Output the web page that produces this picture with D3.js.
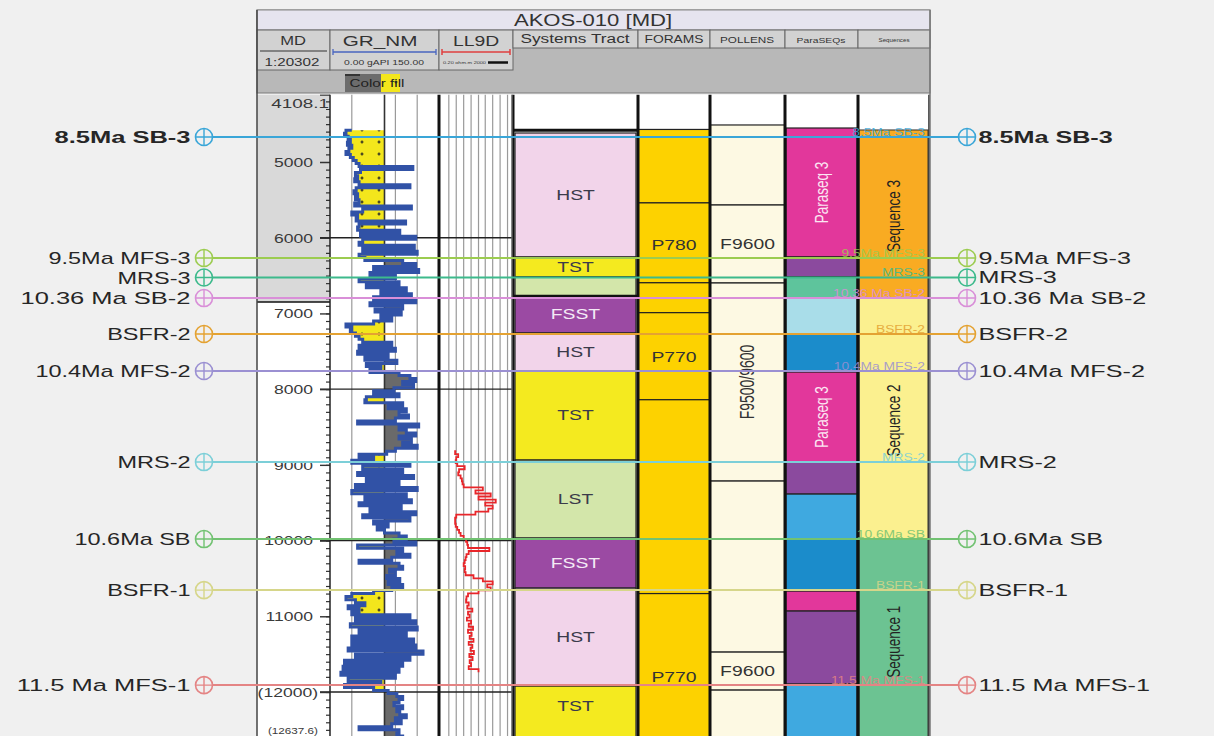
<!DOCTYPE html>
<html><head><meta charset="utf-8">
<script src="https://cdn.jsdelivr.net/npm/d3@7"></script>
<style>
html,body{margin:0;padding:0;background:#f0f0f0;}
svg{display:block;font-family:"Liberation Sans",Arial,sans-serif;}
</style></head><body>
<svg id="chart" width="1214" height="736"></svg>
<script>
// ---------------- well & depth reference ----------------
const wellName = "AKOS-010 [MD]";
const depthTop = 4108.1, depthBase = 12637.6;
const depthLabelValues = [4108.1, 5000, 6000, 7000, 8000, 9000, 10000, 11000, 12000, 12637.6];
const depthGridMajor = [6000, 8000, 10000, 12000];
const mdShadeBase = 6850;

// ---------------- well tops ----------------
const horizonNames  = ["8.5Ma SB-3", "9.5Ma MFS-3", "MRS-3", "10.36 Ma SB-2", "BSFR-2", "10.4Ma MFS-2", "MRS-2", "10.6Ma SB", "BSFR-1", "11.5 Ma MFS-1"];
const horizonDepths = [4670, 6268, 6526, 6797, 7272, 7761, 8963, 9980, 10654, 11909];
const horizonColors = ["#3aa6d8", "#9ccc50", "#3dba8c", "#d98fd8", "#e4a232", "#9b90d2", "#7ccfd8", "#72c272", "#d6d68a", "#e48484"];

// ---------------- GR_NM log (gAPI), sampled every 40 ft from 4580 ft ----------------
const grStart = 4580, grStep = 40, grCutoff = 75;
const grValues = [
  30,22,20,25,28,24,30,26,22,28,
  32,36,40,114,42,35,38,34,40,110,
  36,33,38,35,40,34,112,45,30,38,
  36,104,40,38,96,42,118,45,40,116,
  45,120,40,48,100,118,60,122,55,90,
  40,95,50,105,70,112,60,118,55,100,
  62,98,70,85,60,22,30,28,35,40,
  45,85,40,90,38,80,48,92,50,70,
  55,95,110,118,100,115,88,60,95,50,
  48,100,80,105,95,108,90,38,122,95,
  105,118,95,112,100,120,90,78,40,60,
  30,110,45,100,38,115,50,95,35,120,
  30,105,48,112,40,98,55,118,45,110,
  60,80,65,75,95,105,88,118,38,100,
  92,110,85,40,95,100,82,90,78,96,
  80,100,85,60,30,22,35,48,25,40,
  30,110,35,118,28,120,40,105,30,115,
  30,118,25,128,35,110,20,100,18,95,
  15,90,25,70,20,60,80,92,100,95,
  88,100,92,96,105,90,98,85,40,95,
  92,100
];

// ---------------- LL9D log (ohm.m), sampled every 40 ft from 8818 ft ----------------
const llStart = 8818, llStep = 40;
const llValues = [
  1.0,0.9,1.2,1.0,0.95,1.1,2.2,1.3,1.2,1.5,
  1.7,1.8,2.0,12,6,25,8,40,15,30,
  20,6,1.0,0.9,0.9,0.95,1.1,1.3,1.5,2.0,
  2.5,2.8,3.0,22,3.2,2.6,2.4,2.2,2.0,2.3,
  2.2,2.4,5,12,30,18,25,8,3.0,2.6,
  2.5,3.2,2.8,4.5,3.0,3.5,2.7,4.0,3.2,4.8,
  3.0,4.2,3.5,5.0,3.2,4.5,3.8,5.2,3.4,4.6,
  3.5,4.0,3.2,8
];
const llGridValues = [0.5, 1, 2, 4, 8, 15, 30, 60, 120];
const grGridValues = [30, 90, 120];

// ---------------- Systems tracts ----------------
const stTypes = ["HST", "TST", "LST", "FSST", "HST", "TST", "LST", "FSST", "HST", "TST"];
const stLabels = ["HST", "TST", "", "FSST", "HST", "TST", "LST", "FSST", "HST", "TST"];
const stTops  = [4617, 6255, 6519, 6770, 7259, 7761, 8937, 9967, 10628, 11922];
const stBases = [6255, 6519, 6770, 7259, 7761, 8937, 9967, 10628, 11922, 12637.6];
const stTopLine = 4580;

// ---------------- Foraminifera zones ----------------
const foramTops   = [4570, 5540, 6595, 6990, 8140, 10700];
const foramBases  = [5540, 6595, 6990, 8140, 10700, 12637.6];
const foramLabels = ["", "P780", "", "P770", "", "P770"];
const foramLabelDepths = [null, 6096, null, 7576, null, 11803];

// ---------------- Pollen zones ----------------
const pollenTops   = [4511, 5568, 6598, 9214, 11473, 11975];
const pollenBases  = [5568, 6598, 9214, 11473, 11975, 12637.6];
const pollenLabels = ["", "F9600", "F9500/9600", "", "F9600", ""];

// ---------------- Parasequences ----------------
const psqTops   = [4551, 6255, 6519, 6797, 7272, 7774, 8963, 9386, 9980, 10667, 10931, 11896];
const psqBases  = [6255, 6519, 6797, 7272, 7774, 8963, 9386, 9980, 10667, 10931, 11896, 12637.6];
const psqKinds  = ["magenta", "purple", "teal", "pale", "blue", "magenta", "purple", "sky", "blue", "magenta", "purple", "sky"];
const psqLabels = ["Paraseq 3", "", "", "", "", "Paraseq 3", "", "", "", "", "", ""];

// ---------------- Sequences ----------------
const seqTops   = [4577, 6797, 9980];
const seqBases  = [6797, 9980, 12637.6];
const seqLabels = ["Sequence 3", "Sequence 2", "Sequence 1"];

// ======================================================================
const svg = d3.select("#chart");
const W = 1214, H = 736;
const SX = 1.38; // horizontal stretch of the lettering

const T = {
  md: [257, 330], gr: [330, 439], ll: [439, 513], st: [513, 638],
  fo: [638, 710], po: [710, 785], ps: [785, 858], sq: [858, 930]
};
const panelL = 257, panelR = 930;

const y = d3.scaleLinear().domain([5000, 12000]).range([162, 692]);
const yTop = y(depthTop), yBot = y(depthBase);
const xGR = d3.scaleLinear().domain([0, 150]).range(T.gr);
const xLL = d3.scaleLog().domain([0.2, 200]).range(T.ll);

svg.append("rect").attr("width", W).attr("height", H).attr("fill", "#f0f0f0");

const defs = svg.append("defs");
const pat = defs.append("pattern").attr("id", "sand").attr("patternUnits", "userSpaceOnUse")
  .attr("width", 17).attr("height", 12).attr("x", 0).attr("y", 4);
pat.append("rect").attr("width", 17).attr("height", 12).attr("fill", "#f3e61c");
pat.append("path").attr("d", "M3.5,6 h3 M5,4.5 v3").attr("stroke", "#222").attr("stroke-width", 1.2);
defs.append("clipPath").attr("id", "trackClip").append("rect")
  .attr("x", panelL).attr("y", yTop).attr("width", panelR - panelL).attr("height", H - yTop);

// ---------------- header ----------------
const hdr = svg.append("g");
hdr.append("rect").attr("x", panelL).attr("y", 10).attr("width", panelR - panelL).attr("height", 83)
  .attr("fill", "#b8b8b8").attr("stroke", "#7a7a7a");
hdr.append("rect").attr("x", panelL).attr("y", 10).attr("width", panelR - panelL).attr("height", 20)
  .attr("fill", "#e6e4ef").attr("stroke", "#8a8a8a");
hdr.append("text").attr("x", 593).attr("y", 26).attr("text-anchor", "middle")
  .attr("font-size", 16).attr("fill", "#333").text(wellName);

function cell(x0, x1, y0, y1) {
  hdr.append("rect").attr("x", x0).attr("y", y0).attr("width", x1 - x0).attr("height", y1 - y0)
    .attr("fill", "#d2d2d2").attr("stroke", "#666").attr("stroke-width", 1);
}
cell(T.md[0], T.md[1], 30, 70);
cell(T.gr[0], T.gr[1], 30, 70);
cell(T.ll[0], T.ll[1], 30, 70);
cell(T.st[0], T.st[1], 30, 48);
cell(T.fo[0], T.fo[1], 30, 48);
cell(T.po[0], T.po[1], 30, 48);
cell(T.ps[0], T.ps[1], 30, 48);
cell(T.sq[0], T.sq[1], 30, 48);

hdr.append("text").attr("x", 293).attr("y", 45).attr("text-anchor", "middle").attr("font-size", 12).attr("fill", "#333").text("MD");
hdr.append("line").attr("x1", 260).attr("x2", 327).attr("y1", 51).attr("y2", 51).attr("stroke", "#333");
hdr.append("text").attr("x", 292).attr("y", 66).attr("text-anchor", "middle").attr("font-size", 11).attr("fill", "#333").text("1:20302");

hdr.append("text").attr("x", 380).attr("y", 46).attr("text-anchor", "middle").attr("font-size", 15).attr("fill", "#333").text("GR_NM");
hdr.append("path").attr("d", `M${T.gr[0] + 3},52 H${T.gr[1] - 3} M${T.gr[0] + 3},49 V55 M${T.gr[1] - 3},49 V55`)
  .attr("stroke", "#4a66c0").attr("stroke-width", 1.3).attr("fill", "none");
hdr.append("text").attr("x", 384).attr("y", 65).attr("text-anchor", "middle").attr("font-size", 7.5).attr("fill", "#333").text("0.00 gAPI 150.00");

hdr.append("text").attr("x", 476).attr("y", 46).attr("text-anchor", "middle").attr("font-size", 14).attr("fill", "#333").text("LL9D");
hdr.append("path").attr("d", `M${T.ll[0] + 3},52 H${T.ll[1] - 3} M${T.ll[0] + 3},49 V55 M${T.ll[1] - 3},49 V55`)
  .attr("stroke", "#e04040").attr("stroke-width", 1.5).attr("fill", "none");
hdr.append("text").attr("x", 443).attr("y", 64).attr("font-size", 4).attr("fill", "#333").text("0.20 ohm.m 2000");
hdr.append("line").attr("x1", 488).attr("x2", 508).attr("y1", 62.5).attr("y2", 62.5).attr("stroke", "#111").attr("stroke-width", 2.5);

hdr.append("text").attr("x", 575).attr("y", 43).attr("text-anchor", "middle").attr("font-size", 12.5).attr("fill", "#333").text("Systems Tract");
hdr.append("text").attr("x", 674).attr("y", 43).attr("text-anchor", "middle").attr("font-size", 10).attr("fill", "#333").text("FORAMS");
hdr.append("text").attr("x", 747).attr("y", 43).attr("text-anchor", "middle").attr("font-size", 8.5).attr("fill", "#333").text("POLLENS");
hdr.append("text").attr("x", 821).attr("y", 43).attr("text-anchor", "middle").attr("font-size", 7.5).attr("fill", "#333").text("ParaSEQs");
hdr.append("text").attr("x", 894).attr("y", 42).attr("text-anchor", "middle").attr("font-size", 4.5).attr("fill", "#333").text("Sequences");

// color-fill legend
hdr.append("rect").attr("x", 345).attr("y", 74).attr("width", 36).attr("height", 18).attr("fill", "#6c6c6c");
hdr.append("rect").attr("x", 381).attr("y", 74).attr("width", 19).attr("height", 18).attr("fill", "url(#sand)");
hdr.append("line").attr("x1", 345).attr("x2", 360).attr("y1", 75).attr("y2", 75).attr("stroke", "#111").attr("stroke-width", 1.2);
hdr.append("text").attr("x", 377).attr("y", 87).attr("text-anchor", "middle").attr("font-size", 11).attr("fill", "#222").text("Color fill");

// ---------------- track area ----------------
const trk = svg.append("g").attr("clip-path", "url(#trackClip)");
trk.append("rect").attr("x", panelL).attr("y", yTop).attr("width", panelR - panelL).attr("height", H - yTop).attr("fill", "#fff");
trk.append("rect").attr("x", T.md[0]).attr("y", yTop).attr("width", T.md[1] - T.md[0]).attr("height", y(mdShadeBase) - yTop).attr("fill", "#d9d9d9");
trk.append("line").attr("x1", T.md[0]).attr("x2", T.md[1]).attr("y1", y(mdShadeBase)).attr("y2", y(mdShadeBase)).attr("stroke", "#111").attr("stroke-width", 1.5);

trk.selectAll(".grg").data(grGridValues).join("line")
  .attr("x1", d => xGR(d)).attr("x2", d => xGR(d)).attr("y1", yTop).attr("y2", H)
  .attr("stroke", "#9a9a9a").attr("stroke-width", 1.2);
trk.selectAll(".llg").data(llGridValues).join("line")
  .attr("x1", d => xLL(d)).attr("x2", d => xLL(d)).attr("y1", yTop).attr("y2", H)
  .attr("stroke", "#9a9a9a").attr("stroke-width", 1.2);

const grData = grValues.map((v, i) => ({ d: grStart + i * grStep, v }));
const areaSand = d3.area().curve(d3.curveStepAfter)
  .y(p => y(p.d)).x0(xGR(grCutoff)).x1(p => xGR(Math.min(p.v, grCutoff)));
const areaShale = d3.area().curve(d3.curveStepAfter)
  .y(p => y(p.d)).x0(xGR(grCutoff)).x1(p => xGR(Math.max(p.v, grCutoff)));
trk.append("path").datum(grData).attr("d", areaSand).attr("fill", "url(#sand)");
trk.append("path").datum(grData).attr("d", areaShale).attr("fill", "#6a6a6a");
trk.append("line").attr("x1", xGR(grCutoff)).attr("x2", xGR(grCutoff)).attr("y1", yTop).attr("y2", H)
  .attr("stroke", "#333").attr("stroke-width", 1.6);

trk.selectAll(".dg").data(depthGridMajor).join("line")
  .attr("x1", 320).attr("x2", T.ll[1]).attr("y1", d => y(d)).attr("y2", d => y(d))
  .attr("stroke", "#222").attr("stroke-width", 1.4);

const grLine = d3.line().curve(d3.curveStepAfter).x(p => xGR(p.v)).y(p => y(p.d));
trk.append("path").datum(grData).attr("d", grLine).attr("fill", "none")
  .attr("stroke", "#3152a6").attr("stroke-width", 3);

const llData = llValues.map((v, i) => ({ d: llStart + i * llStep, v }));
const llLine = d3.line().curve(d3.curveStepAfter).x(p => xLL(p.v)).y(p => y(p.d));
trk.append("path").datum(llData).attr("d", llLine).attr("fill", "none")
  .attr("stroke", "#e8262a").attr("stroke-width", 1.8);

// MD axis
const minorTicks = d3.range(4200, 12700, 100);
const axMinor = d3.axisLeft(y).tickValues(minorTicks).tickSize(4).tickFormat("");
const gMinor = trk.append("g").attr("transform", `translate(${T.md[1]},0)`).call(axMinor);
gMinor.select(".domain").remove();
gMinor.selectAll("line").attr("stroke", "#333").attr("stroke-width", 1.2);

const fmtDepth = d => d === depthTop ? "4108.1" : (d >= 12000 ? `(${d})` : String(d));
const axMajor = d3.axisLeft(y).tickValues(depthLabelValues).tickSize(10).tickPadding(7).tickFormat(fmtDepth);
const gMajor = trk.append("g").attr("transform", `translate(${T.md[1]},0)`).call(axMajor);
gMajor.select(".domain").remove();
gMajor.selectAll("line").attr("stroke", "#333").attr("stroke-width", 1.4);
gMajor.selectAll("text").attr("font-family", "Liberation Sans, Arial, sans-serif")
  .attr("font-size", 13.5).attr("fill", "#3a3a3a").attr("data-sx", 1.3);
gMajor.selectAll(".tick").filter(d => d === depthTop).select("text").attr("dy", "0.95em").attr("x", -1).attr("data-sx", 1.4);
gMajor.selectAll(".tick").filter(d => d === depthBase).select("text").attr("dy", "-0.75em").attr("font-size", 9).attr("x", -12);
gMajor.selectAll(".tick").filter(d => d === 12000).select("text").attr("x", -12);

// Systems tracts
const stFill = { HST: "#f2d4ea", TST: "#f4ea1f", LST: "#d3e6aa", FSST: "#9b4aa3" };
const stData = stTypes.map((t, i) => ({ t, label: stLabels[i], top: stTops[i], base: stBases[i] }));
trk.selectAll(".st").data(stData).join("rect")
  .attr("x", T.st[0] + 2).attr("width", T.st[1] - T.st[0] - 4)
  .attr("y", d => y(d.top)).attr("height", d => y(d.base) - y(d.top))
  .attr("fill", d => stFill[d.t]).attr("stroke", "#222").attr("stroke-width", 1.2);
trk.append("line").attr("x1", T.st[0]).attr("x2", T.st[1]).attr("y1", y(stTopLine)).attr("y2", y(stTopLine))
  .attr("stroke", "#111").attr("stroke-width", 3);
trk.append("line").attr("x1", T.st[0]).attr("x2", T.st[1]).attr("y1", y(6770)).attr("y2", y(6770))
  .attr("stroke", "#111").attr("stroke-width", 2.5);
trk.selectAll(".stl").data(stData.filter(d => d.label)).join("text")
  .attr("x", (T.st[0] + T.st[1]) / 2).attr("y", d => (y(d.top) + y(Math.min(d.base, 12450))) / 2)
  .attr("text-anchor", "middle").attr("dominant-baseline", "central").attr("font-size", 14)
  .attr("fill", d => d.t === "FSST" ? "#f4eaf6" : "#3b3b4a").text(d => d.label);

// Forams
const foData = foramTops.map((t, i) => ({ top: t, base: foramBases[i], label: foramLabels[i], ld: foramLabelDepths[i] }));
trk.selectAll(".fo").data(foData).join("rect")
  .attr("x", T.fo[0]).attr("width", T.fo[1] - T.fo[0])
  .attr("y", d => y(d.top)).attr("height", d => y(d.base) - y(d.top))
  .attr("fill", "#fdd200").attr("stroke", "#222").attr("stroke-width", 1.2);
trk.selectAll(".fol").data(foData.filter(d => d.label)).join("text")
  .attr("x", (T.fo[0] + T.fo[1]) / 2).attr("y", d => y(d.ld))
  .attr("text-anchor", "middle").attr("dominant-baseline", "central").attr("font-size", 14)
  .attr("fill", "#333").text(d => d.label);

// Pollens
const poData = pollenTops.map((t, i) => ({ top: t, base: pollenBases[i], label: pollenLabels[i] }));
trk.selectAll(".po").data(poData).join("rect")
  .attr("x", T.po[0]).attr("width", T.po[1] - T.po[0])
  .attr("y", d => y(d.top)).attr("height", d => y(d.base) - y(d.top))
  .attr("fill", "#fdf9e3").attr("stroke", "#222").attr("stroke-width", 1.2);
trk.selectAll(".pol").data(poData.filter(d => d.label)).join("text")
  .attr("transform", d => {
    const cx = (T.po[0] + T.po[1]) / 2, cy = (y(d.top) + y(d.base)) / 2;
    return d.label.length > 6 ? `translate(${cx},${cy}) rotate(-90)` : `translate(${cx},${cy})`;
  })
  .attr("text-anchor", "middle").attr("dominant-baseline", "central").attr("font-size", 14)
  .attr("fill", "#333").text(d => d.label);

// Parasequences
const psFill = { magenta: "#e2379b", purple: "#8b4a9e", teal: "#5ec49c", pale: "#a9dde9", blue: "#1b8ccb", sky: "#3fa9e0" };
const psData = psqTops.map((t, i) => ({ top: t, base: psqBases[i], k: psqKinds[i], label: psqLabels[i] }));
trk.selectAll(".ps").data(psData).join("rect")
  .attr("x", T.ps[0] + 1).attr("width", T.ps[1] - T.ps[0] - 2)
  .attr("y", d => y(d.top)).attr("height", d => y(d.base) - y(d.top))
  .attr("fill", d => psFill[d.k]).attr("stroke", "#222").attr("stroke-width", 1.2);
trk.selectAll(".psl").data(psData.filter(d => d.label)).join("text")
  .attr("transform", d => `translate(${(T.ps[0] + T.ps[1]) / 2},${(y(d.top) + y(d.base)) / 2}) rotate(-90)`)
  .attr("text-anchor", "middle").attr("dominant-baseline", "central").attr("font-size", 13.5)
  .attr("fill", "#fbe6f2").text(d => d.label);

// Sequences
const sqFill = ["#f9ab22", "#fbf08f", "#6cc392"];
const sqData = seqTops.map((t, i) => ({ top: t, base: seqBases[i], label: seqLabels[i], c: sqFill[i] }));
trk.selectAll(".sq").data(sqData).join("rect")
  .attr("x", T.sq[0] + 1).attr("width", T.sq[1] - T.sq[0] - 3)
  .attr("y", d => y(d.top)).attr("height", d => y(d.base) - y(d.top))
  .attr("fill", d => d.c).attr("stroke", "#333").attr("stroke-width", 1);
trk.selectAll(".sql").data(sqData).join("text")
  .attr("transform", d => `translate(${(T.sq[0] + T.sq[1]) / 2 - 1},${(y(d.top) + y(d.base)) / 2 + 2}) rotate(-90)`)
  .attr("text-anchor", "middle").attr("dominant-baseline", "central").attr("font-size", 13.5)
  .attr("fill", "#222").text(d => d.label);

// column borders
const thick = [T.gr[1], T.st[0], T.st[1], T.fo[1], T.po[1], T.ps[1]];
trk.selectAll(".vb").data(thick).join("line")
  .attr("x1", d => d).attr("x2", d => d).attr("y1", yTop).attr("y2", H)
  .attr("stroke", "#111").attr("stroke-width", 3);
trk.append("line").attr("x1", T.md[1]).attr("x2", T.md[1]).attr("y1", yTop).attr("y2", H).attr("stroke", "#222").attr("stroke-width", 1.5);
trk.append("line").attr("x1", T.ll[1] - 1).attr("x2", T.ll[1] - 1).attr("y1", yTop).attr("y2", H).attr("stroke", "#888").attr("stroke-width", 1);
trk.append("line").attr("x1", T.sq[1] - 1).attr("x2", T.sq[1] - 1).attr("y1", yTop).attr("y2", H).attr("stroke", "#222").attr("stroke-width", 1.5);

svg.append("line").attr("x1", panelL).attr("x2", panelL).attr("y1", 10).attr("y2", H).attr("stroke", "#444").attr("stroke-width", 1.5);
svg.append("line").attr("x1", panelR).attr("x2", panelR).attr("y1", 10).attr("y2", H).attr("stroke", "#777").attr("stroke-width", 1.5);

// ---------------- horizons ----------------
const hz = horizonNames.map((n, i) => ({ name: n, d: horizonDepths[i], c: horizonColors[i], bold: i === 0 }));
const xMarkL = 204, xMarkR = 967, rMark = 8.5;
const gh = svg.append("g");
gh.selectAll(".hl").data(hz).join("line")
  .attr("x1", xMarkL + rMark).attr("x2", xMarkR - rMark)
  .attr("y1", d => y(d.d)).attr("y2", d => y(d.d))
  .attr("stroke", d => d.c).attr("stroke-width", 2);

gh.selectAll(".hcl").data(hz).join("text")
  .attr("x", T.sq[1] - 5).attr("y", d => y(d.d) - 1.5)
  .attr("text-anchor", "end").attr("font-size", 10).attr("fill", d => d.c).attr("opacity", 0.85)
  .text(d => d.name);

[xMarkL, xMarkR].forEach(cx => {
  const m = gh.selectAll(null).data(hz).join("g").attr("transform", d => `translate(${cx},${y(d.d)})`);
  m.append("circle").attr("r", rMark).attr("fill", "none").attr("stroke", d => d.c).attr("stroke-width", 1.6);
  m.append("path").attr("d", `M${-rMark},0 H${rMark} M0,${-rMark} V${rMark}`).attr("stroke", d => d.c).attr("stroke-width", 1.4);
});
gh.selectAll(".hlL").data(hz).join("text")
  .attr("x", xMarkL - rMark - 5).attr("y", d => y(d.d)).attr("dominant-baseline", "central")
  .attr("text-anchor", "end").attr("font-size", 17).attr("font-weight", d => d.bold ? "bold" : "normal")
  .attr("data-sx", d => d.bold ? 1.5 : (d.name.includes(" Ma ") ? 1.5 : 1.38))
  .attr("fill", "#262626").text(d => d.name);
gh.selectAll(".hlR").data(hz).join("text")
  .attr("x", xMarkR + rMark + 3).attr("y", d => y(d.d)).attr("dominant-baseline", "central")
  .attr("text-anchor", "start").attr("font-size", 17).attr("font-weight", d => d.bold ? "bold" : "normal")
  .attr("data-sx", 1.48)
  .attr("fill", "#262626").text(d => d.name);

// widen all lettering horizontally (wide display aspect)
svg.selectAll("text").each(function () {
  const t = d3.select(this);
  const sx = t.attr("data-sx") ? +t.attr("data-sx") : SX;
  const x = +t.attr("x") || 0, yy = +t.attr("y") || 0;
  const tr = t.attr("transform") || "";
  let nt;
  if (tr.includes("rotate")) nt = tr.replace("rotate", `scale(${sx},1) rotate`);
  else nt = `${tr} translate(${x},${yy}) scale(${sx},1)`;
  t.attr("x", null).attr("y", null).attr("transform", nt);
});
</script>
</body></html>
